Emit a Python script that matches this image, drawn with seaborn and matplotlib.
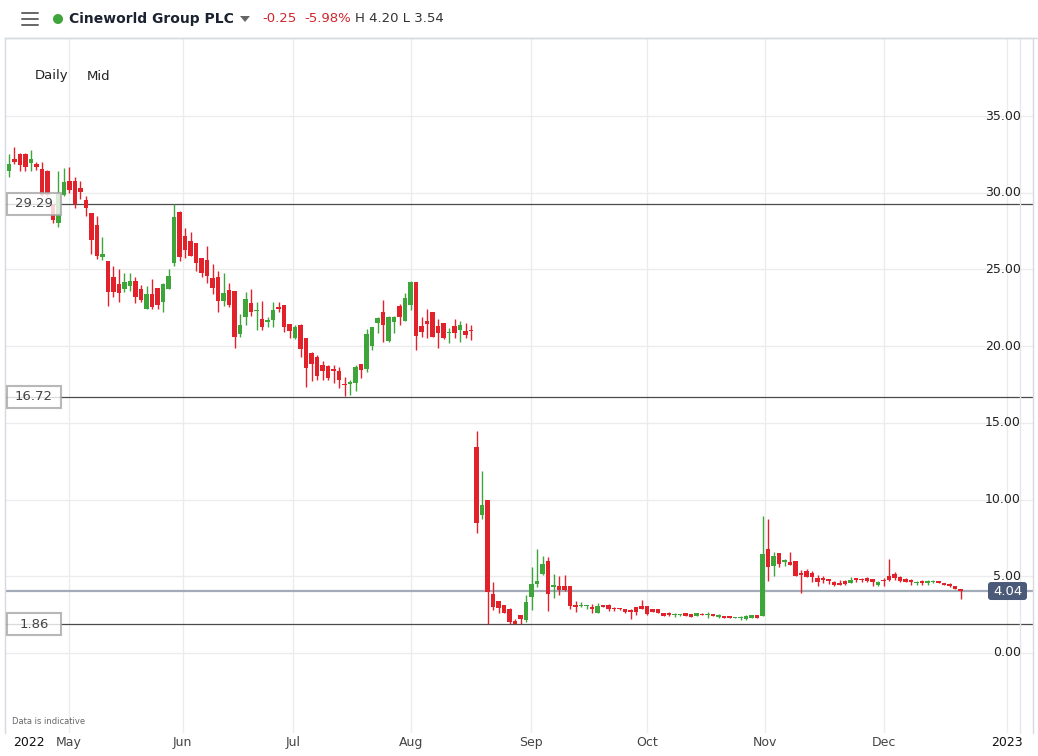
import numpy as np
import pandas as pd
import matplotlib
matplotlib.use("Agg")
import matplotlib.pyplot as plt
import matplotlib.transforms as mtransforms
from matplotlib.patches import Rectangle, FancyBboxPatch, Circle, Polygon
from matplotlib.lines import Line2D
import seaborn as sns

# daily mid prices (trading days, mid April -> late Dec 2022)
opens = [31.4, 32.2, 32.5, 32.5, 31.95, 31.9, 31.55, 31.4, 29.2, 28.0,
         29.86, 30.8, 30.8, 30.3, 29.5, 28.7, 27.9, 25.8, 25.55, 24.5,
         24.05, 23.7, 23.9, 24.25, 23.7, 22.4, 23.4, 23.8, 22.9, 23.7,
         25.4, 28.75, 27.2, 26.85, 26.7, 25.75, 25.6, 24.45, 24.5, 22.95,
         23.65, 23.6, 20.8, 21.9, 22.8, 22.3, 21.8, 21.6, 21.7, 22.55,
         22.7, 21.45, 20.55, 21.4, 20.55, 19.55, 19.3, 18.8, 18.7, 18.5,
         18.4, 17.55, 17.55, 17.6, 18.85, 18.5, 20.0, 21.5, 22.2, 20.35,
         21.6, 22.6, 21.65, 22.7, 24.2, 21.3, 21.65, 22.2, 21.3, 21.5,
         20.85, 21.3, 21.05, 21.0, 21.05, 13.4, 9.0, 10.0, 3.85, 3.4,
         3.15, 2.9, 2.1, 2.5, 2.15, 3.65, 4.5, 5.15, 6.0, 4.3,
         4.35, 4.35, 4.35, 3.1, 3.05, 3.05, 3.0, 2.6, 3.1, 3.1,
         2.95, 2.9, 2.9, 2.8, 3.0, 3.05, 3.05, 2.85, 2.85, 2.6,
         2.6, 2.45, 2.45, 2.6, 2.55, 2.4, 2.55, 2.45, 2.55, 2.35,
         2.4, 2.4, 2.25, 2.28, 2.2, 2.3, 2.45, 2.4, 6.8, 5.7,
         6.5, 5.95, 5.9, 6.0, 5.2, 5.35, 5.2, 4.9, 4.9, 4.85,
         4.65, 4.55, 4.7, 4.55, 4.9, 4.85, 4.9, 4.85, 4.45, 4.72,
         5.0, 5.15, 4.95, 4.85, 4.75, 4.55, 4.7, 4.55, 4.6, 4.7,
         4.55, 4.5, 4.35, 4.2]
highs = [32.5, 33.0, 32.6, 32.6, 32.8, 32.0, 32.0, 31.5, 29.3, 31.4,
         31.6, 31.7, 31.0, 30.8, 29.8, 28.7, 28.5, 27.1, 25.55, 25.2,
         25.0, 24.8, 24.8, 24.5, 24.0, 23.9, 24.4, 23.8, 24.1, 25.0,
         29.3, 28.8, 27.7, 27.45, 26.7, 25.75, 26.5, 25.35, 24.9, 24.8,
         24.1, 23.6, 22.1, 23.5, 23.7, 22.9, 22.95, 21.9, 22.9, 22.9,
         22.7, 21.45, 21.4, 21.45, 20.55, 19.6, 19.4, 19.05, 18.8, 18.8,
         18.65, 18.0, 17.8, 18.8, 18.85, 21.1, 21.25, 21.9, 23.0, 22.0,
         22.0, 22.75, 23.45, 24.25, 24.2, 21.9, 22.4, 22.25, 21.75, 21.5,
         21.2, 21.75, 21.65, 21.5, 21.4, 14.45, 11.85, 10.0, 4.6, 3.4,
         3.15, 2.95, 2.2, 2.5, 3.8, 5.6, 6.8, 6.3, 6.25, 5.15,
         5.0, 5.1, 4.35, 3.4, 3.3, 3.15, 3.2, 3.25, 3.1, 3.2,
         3.0, 2.95, 2.9, 2.9, 3.0, 3.45, 3.05, 2.9, 2.85, 2.6,
         2.65, 2.6, 2.55, 2.6, 2.55, 2.6, 2.6, 2.65, 2.55, 2.55,
         2.4, 2.4, 2.35, 2.4, 2.45, 2.5, 2.45, 8.95, 8.75, 6.6,
         6.5, 6.1, 6.6, 6.0, 5.4, 5.5, 5.35, 5.1, 5.0, 4.85,
         4.7, 4.75, 4.75, 4.95, 4.9, 4.9, 4.95, 4.85, 4.7, 4.9,
         6.1, 5.25, 5.0, 4.9, 4.8, 4.7, 4.75, 4.75, 4.75, 4.7,
         4.55, 4.55, 4.35, 4.2]
lows = [31.0, 31.9, 31.4, 31.4, 31.4, 31.5, 29.8, 29.8, 28.0, 27.8,
        29.8, 30.0, 29.0, 29.6, 28.5, 26.0, 25.7, 25.6, 22.6, 23.2,
        22.9, 23.5, 23.6, 22.8, 22.9, 22.4, 22.4, 22.4, 22.2, 23.7,
        25.2, 25.55, 25.75, 25.9, 24.9, 24.5, 24.1, 23.4, 22.2, 22.6,
        22.55, 19.9, 20.6, 21.4, 22.0, 21.05, 21.05, 21.25, 21.25, 22.2,
        20.9, 20.55, 20.5, 19.3, 17.35, 17.7, 17.8, 17.8, 17.8, 17.6,
        17.3, 16.75, 16.8, 17.1, 17.9, 18.3, 19.75, 20.85, 20.3, 20.3,
        20.85, 21.4, 21.65, 22.35, 19.75, 20.6, 20.55, 20.6, 19.9, 20.45,
        20.2, 20.55, 20.3, 20.55, 20.4, 7.8, 8.75, 1.9, 2.8, 2.6,
        2.6, 1.9, 1.86, 1.9, 2.0, 2.8, 4.3, 5.1, 2.75, 3.6,
        3.8, 4.05, 2.9, 2.7, 3.0, 2.85, 2.6, 2.6, 3.0, 2.75,
        2.75, 2.8, 2.6, 2.2, 2.5, 2.85, 2.45, 2.65, 2.6, 2.4,
        2.4, 2.35, 2.4, 2.4, 2.35, 2.4, 2.45, 2.3, 2.4, 2.3,
        2.3, 2.25, 2.25, 2.15, 2.15, 2.3, 2.3, 2.4, 4.7, 5.0,
        5.6, 5.7, 5.75, 5.0, 3.9, 4.95, 4.6, 4.35, 4.55, 4.5,
        4.35, 4.45, 4.45, 4.55, 4.65, 4.65, 4.65, 4.4, 4.4, 4.4,
        4.7, 4.75, 4.6, 4.6, 4.45, 4.45, 4.45, 4.45, 4.55, 4.55,
        4.45, 4.3, 4.15, 3.54]
closes = [31.9, 32.0, 31.8, 31.7, 32.2, 31.7, 29.86, 29.86, 28.2, 30.0,
          30.7, 30.2, 29.3, 30.05, 29.0, 26.9, 25.9, 26.0, 23.5, 23.5,
          23.45, 24.2, 24.25, 23.2, 23.0, 23.4, 22.55, 22.7, 24.05, 24.6,
          28.4, 25.8, 26.3, 25.9, 25.4, 24.8, 24.6, 23.8, 22.95, 23.45,
          22.7, 20.6, 21.4, 23.1, 22.2, 22.35, 21.25, 21.7, 22.35, 22.4,
          21.25, 21.0, 21.25, 19.8, 18.6, 18.85, 18.05, 18.4, 17.9, 18.4,
          17.8, 17.45, 17.65, 18.65, 18.45, 20.8, 21.25, 21.85, 21.4, 21.9,
          21.9, 21.9, 23.15, 24.2, 20.65, 20.9, 21.45, 20.6, 20.85, 20.55,
          20.9, 20.85, 21.4, 20.75, 21.0, 8.5, 9.65, 4.0, 3.0, 2.95,
          2.6, 2.0, 1.9, 2.2, 3.3, 4.5, 4.7, 5.8, 3.85, 4.45,
          4.1, 4.1, 3.05, 3.0, 3.1, 3.1, 2.85, 3.05, 3.0, 2.9,
          2.85, 2.85, 2.65, 2.65, 2.7, 2.85, 2.55, 2.7, 2.6, 2.4,
          2.45, 2.5, 2.55, 2.4, 2.35, 2.6, 2.45, 2.5, 2.4, 2.45,
          2.3, 2.25, 2.35, 2.32, 2.4, 2.45, 2.3, 6.45, 5.6, 6.3,
          5.8, 6.05, 5.75, 5.05, 5.1, 4.95, 4.95, 4.65, 4.75, 4.7,
          4.45, 4.45, 4.5, 4.75, 4.75, 4.75, 4.7, 4.6, 4.6, 4.68,
          4.75, 4.9, 4.7, 4.65, 4.6, 4.65, 4.55, 4.7, 4.7, 4.55,
          4.45, 4.35, 4.15, 4.04]

month_labels = ["2022", "May", "Jun", "Jul", "Aug", "Sep", "Oct", "Nov", "Dec", "2023"]
month_pos = [3.6, 10.9, 31.6, 51.6, 73.1, 94.9, 116.0, 137.5, 159.0, 181.5]
y_ticks = [0, 5, 10, 15, 20, 25, 30, 35]
levels = [29.29, 16.72, 1.86]
last_price = 4.04

df = pd.DataFrame({"open": opens, "high": highs, "low": lows, "close": closes})
df["idx"] = np.arange(len(df))
df["up"] = df["close"] >= df["open"]

GREEN = "#3ea53a"
RED = "#e2222a"
GRID = "#ececec"

sns.set_theme(style="white")
plt.rcParams["font.family"] = ["DejaVu Sans"]

W, H = 1038, 756
fig = plt.figure(figsize=(W / 100, H / 100), dpi=100)
ax = fig.add_axes([5 / W, 23 / H, 1028 / W, 695 / H])
ax.set_xlim(-0.727, 186.18)
ax.set_ylim(-5.215, 40.09)

# grid
ax.set_yticks(y_ticks)
ax.set_yticklabels([])
ax.yaxis.grid(True, color=GRID, lw=1)
for p in month_pos[1:]:
    ax.axvline(p, color=GRID, lw=1, zorder=0)
ax.tick_params(axis="both", length=0)
ax.set_xticks(month_pos)
ax.set_xticklabels(month_labels, fontsize=9)
ax.tick_params(axis="x", pad=2)
for lab in ax.get_xticklabels():
    lab.set_color("#111" if lab.get_text().startswith("20") else "#444")

for side in ["left", "top", "right"]:
    ax.spines[side].set_color("#d6dadf")
    ax.spines[side].set_linewidth(1)
ax.spines["bottom"].set_visible(False)

# candles
colors = np.where(df["up"], GREEN, RED)
ax.vlines(df["idx"], df["low"], df["high"], colors=colors, lw=1, zorder=3)
body_lo = np.minimum(df["open"], df["close"])
body_h = np.maximum((df["close"] - df["open"]).abs(), 0.07)
ax.bar(df["idx"], body_h, bottom=body_lo, width=0.84, color=colors, linewidth=0, zorder=4)

# level lines
for v in levels:
    ax.axhline(v, color="#4a4a4a", lw=0.9, zorder=2)
ax.axhline(last_price, color="#a3abb8", lw=1.6, zorder=2)

# pixel-space helpers
pxT = mtransforms.Affine2D().scale(1 / W, -1 / H).translate(0, 1) + fig.transFigure


def ypx(v):
    return H - ax.transData.transform((0, v))[1]


for v in levels:
    y = ypx(v)
    fig.patches.append(Rectangle((7, y - 11), 54, 22, transform=pxT, fc="white", alpha=0.8,
                                 ec="#a6a6a6", lw=1.5, zorder=5))
    fig.text(34, y, f"{v:.2f}", transform=pxT, ha="center", va="center",
             fontsize=9.5, color="#444", zorder=6)

for v in y_ticks:
    fig.text(1021, ypx(v), f"{v:.2f}", transform=pxT, ha="right", va="center",
             fontsize=9, color="#222", zorder=5)

y = ypx(last_price)
fig.patches.append(FancyBboxPatch((988, y - 9), 39, 18, boxstyle="round,pad=0,rounding_size=3",
                                  transform=pxT, fc="#4a5a78", ec="none", zorder=6))
fig.text(1007.5, y, f"{last_price:.2f}", transform=pxT, ha="center", va="center",
         fontsize=9.5, color="white", zorder=7)

fig.add_artist(Line2D([1020, 1020], [38, 733], transform=pxT, color="#e4e7eb", lw=1))

# header
fig.add_artist(Line2D([5, W], [38, 38], transform=pxT, color="#d6dadf", lw=1))
for yy in [13, 19, 25]:
    fig.add_artist(Line2D([22, 38], [yy, yy], transform=pxT, color="#666", lw=1.4))
fig.patches.append(Circle((58, 19), 5, transform=pxT, fc="#3ea53a", ec="none"))
fig.text(69, 19, "Cineworld Group PLC", transform=pxT, ha="left", va="center",
         fontsize=10, fontweight="bold", color="#1b2230")
fig.patches.append(Polygon([[240, 16], [250, 16], [245, 22]], closed=True, transform=pxT,
                           fc="#666", ec="none"))
fig.text(262, 19, "-0.25", transform=pxT, ha="left", va="center", fontsize=9.5, color="#d0262d")
fig.text(304, 19, "-5.98%", transform=pxT, ha="left", va="center", fontsize=9.5, color="#d0262d")
fig.text(355, 19, "H 4.20 L 3.54", transform=pxT, ha="left", va="center", fontsize=9.5, color="#333")

fig.text(35, 76, "Daily", transform=pxT, ha="left", va="center", fontsize=9.5, color="#222")
fig.text(87, 76, "Mid", transform=pxT, ha="left", va="center", fontsize=9.5, color="#222")
fig.text(12, 721, "Data is indicative", transform=pxT, ha="left", va="center", fontsize=6, color="#666")

fig.savefig("out.png", dpi=100, facecolor="white")
